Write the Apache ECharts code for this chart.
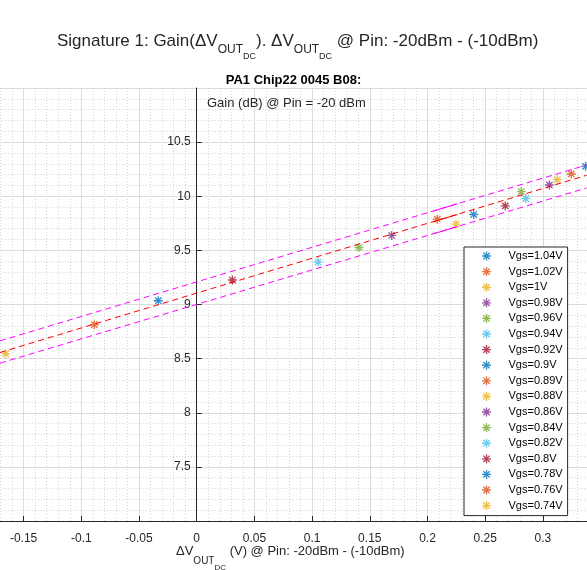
<!DOCTYPE html>
<html>
<head>
<meta charset="utf-8">
<script src="https://cdn.jsdelivr.net/npm/echarts@6/dist/echarts.min.js"></script>
<style>
html,body{margin:0;padding:0;background:#fff;}
#chart{width:587px;height:570px;}
</style>
</head>
<body>
<div id="chart"></div>
<script>
// ---- data ----
const vgsLabels = ['Vgs=1.04V','Vgs=1.02V','Vgs=1V','Vgs=0.98V','Vgs=0.96V','Vgs=0.94V','Vgs=0.92V','Vgs=0.9V','Vgs=0.89V','Vgs=0.88V','Vgs=0.86V','Vgs=0.84V','Vgs=0.82V','Vgs=0.8V','Vgs=0.78V','Vgs=0.76V','Vgs=0.74V'];
const deltaV = [0.337, 0.3246, 0.3125, 0.3056, 0.2813, 0.2851, 0.2674, 0.240, 0.2085, 0.2247, 0.169, 0.1406, 0.1052, 0.0309, -0.0333, -0.0887, -0.1655];
const gainDb = [10.276, 10.206, 10.154, 10.104, 10.043, 9.979, 9.911, 9.831, 9.788, 9.742, 9.638, 9.527, 9.392, 9.226, 9.035, 8.814, 8.544];
// fit line (red) and +/- band (magenta), full range
const fitX = [-0.1705, 0.338];
const fitMid = [8.556, 10.194];
const fitUpper = [8.664, 10.289];
const fitLower = [8.458, 10.077];
// short overlapping fit segments (appear solid in the reference)
const segX = [0.205, 0.226];
const segMid = [9.765, 9.832];
const segUpper = [9.863, 9.930];
const segLower = [9.653, 9.720];
const palette = ['#0072BD','#D95319','#EDB120','#7E2F8E','#77AC30','#4DBEEE','#A2142F'];

const star = 'path://M0 6.8H16V9.2H0Z M6.8 0H9.2V16H6.8Z M1.5 3.2L3.2 1.5L14.5 12.8L12.8 14.5Z M12.8 1.5L14.5 3.2L3.2 14.5L1.5 12.8Z';
const txt = '#262626';
const font = 'Liberation Sans, Arial, Helvetica, sans-serif';

const series = vgsLabels.map((name, i) => ({
  name: name,
  type: 'scatter',
  symbol: star,
  symbolSize: 9,
  itemStyle: {color: palette[i % palette.length]},
  data: [[deltaV[i], gainDb[i]]],
  z: 3
}));
function fitLine(xs, ys, color, dashed) {
  return {
    type: 'line', silent: true, symbol: 'none', z: 4,
    lineStyle: {color: color, width: 1, type: dashed ? [6, 4] : 'solid'},
    data: xs.map((x, k) => [x, ys[k]])
  };
}
series.push(fitLine(fitX, fitUpper, '#ff00ff', true));
series.push(fitLine(fitX, fitMid, '#ff0000', true));
series.push(fitLine(fitX, fitLower, '#ff00ff', true));
series.push(fitLine(segX, segUpper, '#ff00ff', false));
series.push(fitLine(segX, segMid, '#ff0000', false));
series.push(fitLine(segX, segLower, '#ff00ff', false));

const gridLeft = -34.1;
const zeroX = 196.7; // pixel column of x = 0 in the reference

const nrm = {fontWeight: 'normal', fontFamily: font, color: txt};
const chart = echarts.init(document.getElementById('chart'), null, {renderer: 'canvas'});
chart.setOption({
  animation: false,
  backgroundColor: '#ffffff',
  textStyle: {fontFamily: font},
  title: [
    {
      text: '{n|Signature 1: Gain(ΔV}{s|OUT}{ss|DC}{n|). ΔV}{s|OUT}{ss|DC}{n| @ Pin: -20dBm - (-10dBm)}',
      left: 57, top: 33, padding: 0,
      textStyle: {
        fontFamily: font, fontWeight: 'normal',
        rich: {
          n: Object.assign({fontSize: 17, verticalAlign: 'top', lineHeight: 20}, nrm),
          s: Object.assign({fontSize: 12, verticalAlign: 'top', padding: [11, 0, 0, 0]}, nrm),
          ss: Object.assign({fontSize: 9, verticalAlign: 'top', padding: [19, 0, 0, 0]}, nrm)
        }
      }
    },
    {
      text: 'PA1 Chip22 0045 B08:', left: 'center', top: 74, padding: 0,
      textStyle: {fontSize: 13, fontWeight: 'bold', color: '#000', fontFamily: font}
    },
    {
      text: 'Gain (dB) @ Pin = -20 dBm', left: 207, top: 97, padding: 0,
      textStyle: Object.assign({fontSize: 13}, nrm)
    },
    {
      text: '{n|ΔV}{s|OUT}{ss|DC}{n| (V) @ Pin: -20dBm - (-10dBm)}',
      left: 176, top: 545, padding: 0,
      textStyle: {
        fontFamily: font, fontWeight: 'normal',
        rich: {
          n: Object.assign({fontSize: 13, verticalAlign: 'top', lineHeight: 16}, nrm),
          s: Object.assign({fontSize: 10, verticalAlign: 'top', padding: [11, 0, 0, 0]}, nrm),
          ss: Object.assign({fontSize: 8, verticalAlign: 'top', padding: [19, 0, 0, 0]}, nrm)
        }
      }
    }
  ],
  legend: {
    data: vgsLabels,
    orient: 'vertical',
    left: 464, top: 247,
    padding: [3, 5, 4, 18],
    itemWidth: 34, itemHeight: 9, itemGap: 3.6,
    backgroundColor: '#ffffff',
    borderColor: '#262626', borderWidth: 1, borderRadius: 0,
    selectedMode: false,
    textStyle: {fontSize: 11, color: '#000', fontFamily: font, lineHeight: 12}
  },
  grid: {left: gridLeft, right: -13.6, top: 88, bottom: 49, containLabel: false, outerBoundsMode: 'none'},
  xAxis: {
    type: 'value', min: -0.2, max: 0.35, interval: 0.05,
    axisLine: {show: true, onZero: false, lineStyle: {color: txt, width: 1}},
    axisTick: {show: true, inside: true, length: 5, lineStyle: {color: txt}},
    axisLabel: {fontSize: 12, color: txt, margin: 12, fontFamily: font},
    splitLine: {show: true, lineStyle: {color: '#dcdcdc', width: 1}},
    minorTick: {show: false, splitNumber: 5},
    minorSplitLine: {show: true, lineStyle: {color: '#d4d4d4', width: 1, type: [1, 2]}}
  },
  yAxis: {
    type: 'value', min: 7, max: 11, interval: 0.5,
    position: 'left',
    offset: gridLeft - zeroX,
    axisLine: {show: true, onZero: false, lineStyle: {color: txt, width: 1}},
    axisTick: {show: true, inside: true, length: 5, lineStyle: {color: txt}},
    axisLabel: {fontSize: 12, color: txt, margin: 6, showMinLabel: false, showMaxLabel: false, fontFamily: font},
    splitLine: {show: true, lineStyle: {color: '#dcdcdc', width: 1}},
    minorTick: {show: false, splitNumber: 5},
    minorSplitLine: {show: true, lineStyle: {color: '#d4d4d4', width: 1, type: [1, 2]}}
  },
  series: series
});
</script>
</body>
</html>
